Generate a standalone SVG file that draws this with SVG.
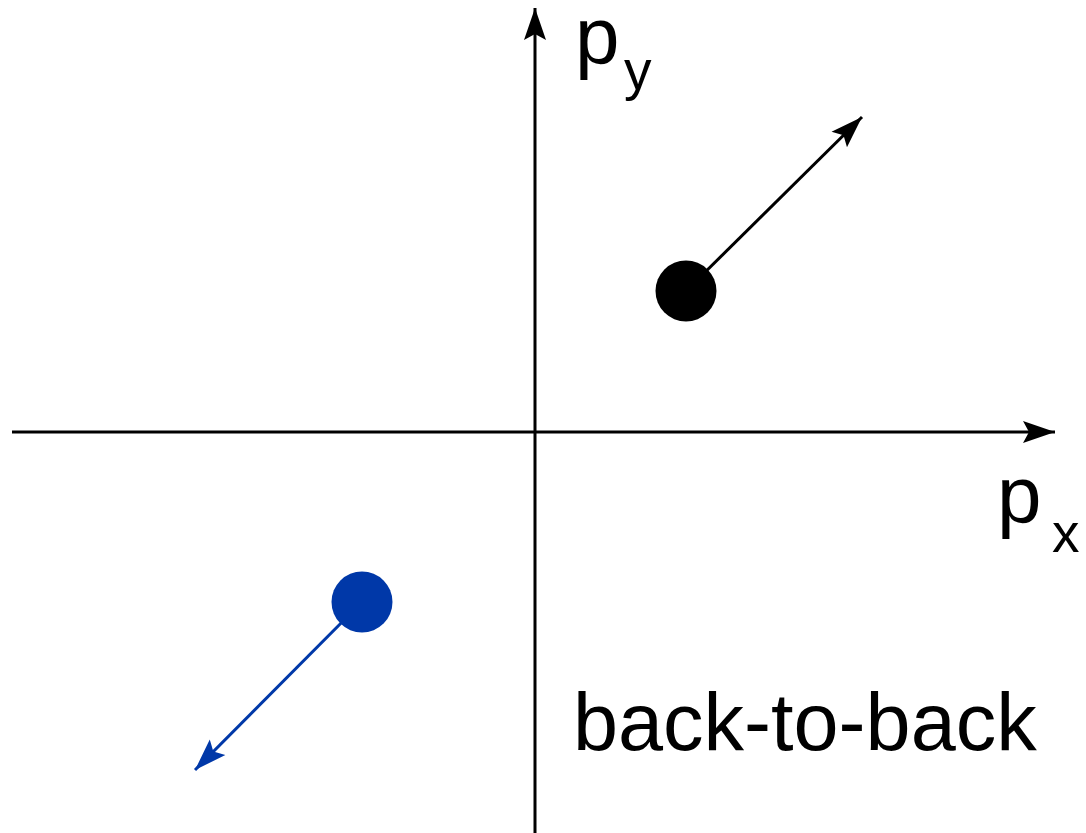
<svg xmlns="http://www.w3.org/2000/svg" width="1086" height="833" viewBox="0 0 1086 833">
<style>
.t{font-family:"Liberation Sans",Arial,sans-serif;fill:#000}
.ax{stroke:#000;stroke-width:3;fill:none}
</style>
<defs>
<marker id="ahk" markerUnits="userSpaceOnUse" markerWidth="34" markerHeight="24" viewBox="0 0 34 24" refX="32" refY="12" orient="auto">
<path d="M0,1 L32,12 L0,23 L6,12 Z" fill="#000"/>
</marker>
<marker id="ahb" markerUnits="userSpaceOnUse" markerWidth="34" markerHeight="24" viewBox="0 0 34 24" refX="32" refY="12" orient="auto">
<path d="M0,1 L32,12 L0,23 L6,12 Z" fill="#0038A8"/>
</marker>
</defs>
<rect width="1086" height="833" fill="#fff"/>
<g id="connectors">
<line class="ax" x1="535" y1="833" x2="535" y2="8" marker-end="url(#ahk)"/>
<line class="ax" x1="12" y1="432" x2="1055" y2="432" marker-end="url(#ahk)"/>
<line class="ax" x1="686" y1="291" x2="862" y2="117" marker-end="url(#ahk)"/>
<line x1="362" y1="602" x2="195" y2="770" stroke="#0038A8" stroke-width="3" marker-end="url(#ahb)"/>
</g>
<g id="particle1"><circle cx="686" cy="291" r="30.5" fill="#000"/></g>
<g id="particle2"><circle cx="362" cy="602" r="30.5" fill="#0038A8"/></g>
<g id="label-py"><text class="t" x="575" y="63" font-size="80">p<tspan font-size="55" x="624" y="89">y</tspan></text></g>
<g id="label-px"><text class="t" x="997" y="522" font-size="80">p<tspan font-size="55" x="1052" y="552">x</tspan></text></g>
<g id="label-b2b"><text class="t" x="573" y="750" font-size="81">back-to-back</text></g>
</svg>
